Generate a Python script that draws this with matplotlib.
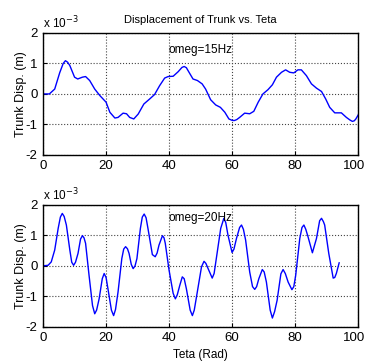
import matplotlib
matplotlib.use("Agg")
import matplotlib.pyplot as plt
import matplotlib.transforms as mtransforms

plt.rcParams['font.family'] = ['Liberation Sans', 'DejaVu Sans']
plt.rcParams['axes.unicode_minus'] = False

# trunk displacement, units of 1e-3 m, sampled along teta (rad)
teta_15 = [0, 2, 3.7, 5.3, 6.4, 7.1, 7.8, 8.5, 10, 11, 12.5, 13.5, 14.8, 16.4,
           18, 20, 21.2, 22.8, 23.8, 25.4, 26.5, 27.5, 28.8, 30.2, 32, 33.9,
           35.4, 37, 38.6, 39.7, 41.3, 42.9, 44.1, 44.8, 45.5, 46, 47.6, 49,
           50.5, 51.6, 53.2, 54.8, 56.3, 57.7, 59, 60.1, 60.8, 61.5, 62.4, 64,
           65.6, 66.9, 68.3, 69.8, 71.4, 72.8, 74.1, 75.7, 77, 78.3, 79.6,
           80.9, 82, 83.6, 85.2, 86.8, 88.4, 89.7, 91, 92.6, 94.7, 96.3, 97.5,
           98.2, 98.8, 99.3, 100.2]
disp_15 = [0, 0.0, 0.16, 0.7, 1.0, 1.09, 1.04, 0.93, 0.55, 0.49, 0.55, 0.57,
           0.44, 0.16, -0.05, -0.27, -0.6, -0.79, -0.77, -0.63, -0.65, -0.77,
           -0.82, -0.66, -0.33, -0.16, -0.02, 0.27, 0.52, 0.57, 0.58, 0.73,
           0.87, 0.9, 0.86, 0.77, 0.49, 0.44, 0.33, 0.16, -0.19, -0.36, -0.44,
           -0.6, -0.82, -0.87, -0.87, -0.84, -0.77, -0.63, -0.65, -0.57, -0.27,
           0, 0.14, 0.3, 0.55, 0.71, 0.79, 0.71, 0.69, 0.79, 0.79, 0.6, 0.33,
           0.19, 0.08, -0.16, -0.44, -0.62, -0.62, -0.77, -0.86, -0.9, -0.88,
           -0.82, -0.66]

teta_20 = [0, 1.6, 2.6, 3.7, 4.8, 5.5, 6.1, 6.7, 7.4, 8.5, 9.1, 9.7, 10.3,
           11.1, 11.9, 12.5, 13.0, 13.5, 14.6, 15.7, 16.4, 17.0, 17.8, 18.8,
           19.4, 20.0, 20.6, 21.7, 22.4, 23.0, 23.8, 25, 25.6, 26.2, 26.8,
           27.3, 28.0, 28.6, 29.2, 29.8, 30.9, 31.5, 32.1, 32.7, 33.3, 34.7,
           35.6, 36.2, 36.8, 37.9, 38.4, 38.8, 40, 41.3, 42, 42.6, 43.4, 44.2,
           44.8, 45.5, 46.7, 47.4, 48.0, 48.7, 50.3, 51.1, 51.7, 52.4, 53.7,
           54.3, 55, 56.4, 57.4, 58.0, 58.7, 60, 60.6, 61.4, 62.4, 63, 63.6,
           64.3, 65.6, 66.5, 67.2, 67.8, 68.5, 69.6, 70.2, 70.9, 72.1, 72.8,
           73.5, 74.3, 75.5, 76.2, 76.9, 77.8, 79, 79.6, 80.2, 81.5, 82.2,
           82.8, 83.4, 84.1, 85.5, 86.8, 87.8, 88.4, 89.0, 89.4, 90.7, 92.1,
           92.6, 93.1, 94]
disp_20 = [0, 0.02, 0.13, 0.52, 1.23, 1.6, 1.72, 1.62, 1.34, 0.52, 0.12, 0.02,
           0.12, 0.41, 0.88, 0.99, 0.92, 0.74, -0.31, -1.3, -1.57, -1.45,
           -1.08, -0.42, -0.25, -0.38, -0.75, -1.45, -1.63, -1.43, -0.86,
           0.24, 0.55, 0.63, 0.56, 0.41, 0.05, -0.09, 0.0, 0.24, 1.23, 1.6,
           1.70, 1.58, 1.23, 0.37, 0.30, 0.42, 0.68, 0.99, 0.92, 0.74, -0.14,
           -0.9, -1.08, -0.95, -0.64, -0.36, -0.42, -0.75, -1.45, -1.63,
           -1.45, -1.02, -0.03, 0.15, 0.08, -0.09, -0.4, -0.25, 0.24, 1.23,
           1.56, 1.42, 1.01, 0.44, 0.55, 0.9, 1.26, 1.34, 1.2, 0.85, -0.2,
           -0.68, -0.77, -0.68, -0.42, -0.12, -0.2, -0.53, -1.45, -1.71,
           -1.5, -1.13, -0.26, -0.12, -0.25, -0.53, -0.78, -0.68, -0.31, 0.9,
           1.26, 1.34, 1.2, 0.96, 0.43, 0.9, 1.48, 1.56, 1.45, 1.34, 0.41,
           -0.4, -0.38, -0.25, 0.1]

fig = plt.figure(figsize=(3.68, 3.62), dpi=100)
ax1 = fig.add_axes([0.117, 0.572, 0.856, 0.337])
ax2 = fig.add_axes([0.117, 0.097, 0.856, 0.337])

for ax, t, d, lbl, ly in [(ax1, teta_15, disp_15, "omeg=15Hz", 1.45),
                          (ax2, teta_20, disp_20, "omeg=20Hz", 1.56)]:
    ax.plot(t, d, color=(0, 0, 1), lw=1, solid_joinstyle='round')
    ax.set_xlim(0, 100)
    ax.set_ylim(-2, 2)
    ax.set_xticks([0, 20, 40, 60, 80, 100])
    ax.set_yticks([-2, -1, 0, 1, 2])
    ax.grid(True, ls=':', color='#444444', lw=0.8)
    ax.tick_params(direction='in', length=3, labelsize=9.5, pad=4)
    ax.set_ylabel("Trunk Disp. (m)", fontsize=9)
    ax.yaxis.set_label_coords(-0.051, 0.5)
    for s in ax.spines.values():
        s.set_linewidth(1)
    ax.text(0, 1.01, "x 10$^{-3}$", transform=ax.transAxes, fontsize=8.5,
            va='bottom', ha='left')
    ax.text(39.7, ly, lbl, fontsize=8.5, va='center')
    # nudge the last x tick label so it stays inside the figure
    last = ax.get_xticklabels()[-1]
    last.set_transform(last.get_transform() +
                       mtransforms.ScaledTranslation(-3 / 72, 0, fig.dpi_scale_trans))

ax1.set_title("Displacement of Trunk vs. Teta", fontsize=8, pad=7)
ax2.set_xlabel("Teta (Rad)", fontsize=8.5, labelpad=3)

fig.savefig("out.png", dpi=100)
